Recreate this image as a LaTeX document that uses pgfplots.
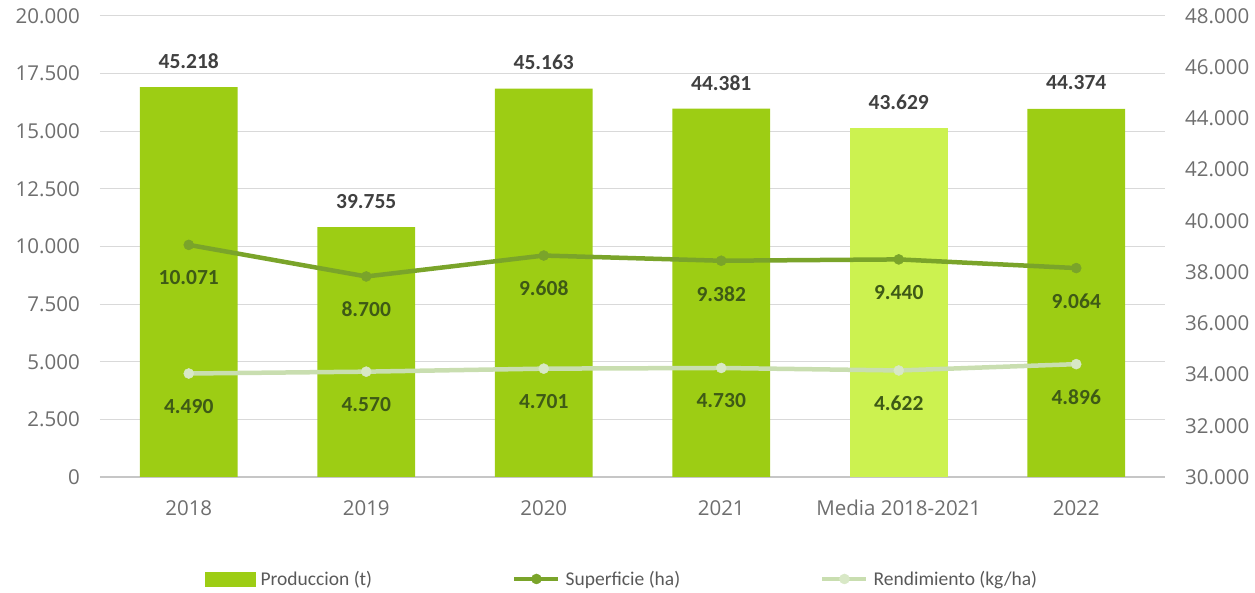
\documentclass[border=0pt]{standalone}
\usepackage{fontspec}
\setmainfont{Carlito}
\newfontfamily\tickfont{Open Sans}
\usepackage{pgfplots}
\pgfplotsset{compat=1.18}
\definecolor{barcol}{HTML}{9DCD14}
\definecolor{mediacol}{HTML}{CCF250}
\definecolor{supcol}{HTML}{7AA42A}
\definecolor{rendcol}{HTML}{C9DEB0}
\definecolor{rendmark}{HTML}{D8E8C6}
\definecolor{gridgray}{HTML}{D9D9D9}
\definecolor{ticktext}{HTML}{6E6E6E}
\definecolor{barlab}{HTML}{404040}
\definecolor{linelab}{HTML}{3E5A16}
\definecolor{legtext}{HTML}{595959}
\pgfplotsset{
  base/.style={
    at={(0,0)}, anchor=south west, scale only axis,
    width=1065bp, height=461bp,
    xmin=-0.5, xmax=5.5,
    scaled y ticks=false,
    /pgf/number format/.cd, fixed, precision=0, 1000 sep={.}, assume math mode=true, /pgfplots/.cd,
  },
}
\begin{document}
\begin{tikzpicture}
% axis 1: grid and left ticks, x labels
\begin{axis}[base,
  ymin=0, ymax=20000,
  ytick={0,2500,...,20000},
  xtick={0,...,5},
  xticklabels={2018,2019,2020,2021,Media 2018-2021,2022},
  axis line style={draw=none},
  major tick style={draw=none},
  ymajorgrids, grid style={color=gridgray, line width=1bp},
  xticklabel style={anchor=base, yshift=-38bp, inner sep=0pt, font=\tickfont\fontsize{20.5bp}{24bp}\selectfont, text=ticktext},
  yticklabel style={anchor=east, xshift=-20bp, inner sep=0pt, font=\tickfont\fontsize{20.5bp}{24bp}\selectfont, text=ticktext},
]
\addplot[draw=none, forget plot] coordinates {(0,0)};
\draw[color=gridgray!80!black!70, line width=1.3bp] (rel axis cs:0,0) -- (rel axis cs:1,0);
\end{axis}
% axis 2: bars, right axis
\begin{axis}[base,
  ymin=30000, ymax=48000,
  ytick={30000,32000,...,48000},
  axis y line*=right,
  axis x line=none,
  axis line style={draw=none},
  major tick style={draw=none},
  yticklabel style={anchor=west, xshift=20bp, inner sep=0pt, font=\tickfont\fontsize{20.5bp}{24bp}\selectfont, text=ticktext},
  ybar, bar width=0.552,
  nodes near coords,
  every node near coord/.append style={anchor=center, yshift=26bp, inner sep=0pt, font=\bfseries\fontsize{21.5bp}{24bp}\selectfont, text=barlab},
]
\addplot[fill=barcol, draw=none, bar shift=0pt] coordinates {(0,45218) (1,39755) (2,45163) (3,44381) (5,44374)};
\addplot[fill=mediacol, draw=none, bar shift=0pt] coordinates {(4,43629)};
\end{axis}
% axis 3: lines
\begin{axis}[base,
  ymin=0, ymax=20000,
  hide axis,
  legend columns=3,
  legend style={at={(0.0986,-0.2212)}, anchor=west, draw=none, fill=none, inner sep=0pt,
    font=\fontsize{19.5bp}{22bp}\selectfont, text=legtext,
    nodes={inner sep=0pt},
    /tikz/every odd column/.style={column sep=5bp},
    /tikz/every even column/.style={column sep=140bp}},
  legend cell align=left,
  legend image code/.code={\draw[mark repeat=2,mark phase=2] plot coordinates {(0bp,0bp) (22bp,0bp) (44bp,0bp)};},
  nodes near coords,
  every node near coord/.append style={anchor=center, yshift=-33bp, inner sep=0pt, font=\bfseries\fontsize{21.5bp}{24bp}\selectfont, text=linelab},
]
\addlegendimage{legend image code/.code={\fill[barcol] (0bp,-7bp) rectangle (50bp,7bp);}}
\addlegendentry{Produccion (t)}
\addplot[color=supcol, line width=4.5bp, mark=*, mark size=5bp, mark options={fill=supcol, draw=supcol, line width=0.5bp}] coordinates {(0,10071) (1,8700) (2,9608) (3,9382) (4,9440) (5,9064)};
\addlegendentry{Superficie (ha)}
\addplot[color=rendcol, line width=4.5bp, mark=*, mark size=5bp, mark options={fill=rendmark, draw=rendmark, line width=0.5bp}] coordinates {(0,4490) (1,4570) (2,4701) (3,4730) (4,4622) (5,4896)};
\addlegendentry{Rendimiento (kg/ha)}
\end{axis}
\pgfresetboundingbox
\path[use as bounding box] (-100bp,-116bp) rectangle (1155bp,477bp);
\end{tikzpicture}
\end{document}
